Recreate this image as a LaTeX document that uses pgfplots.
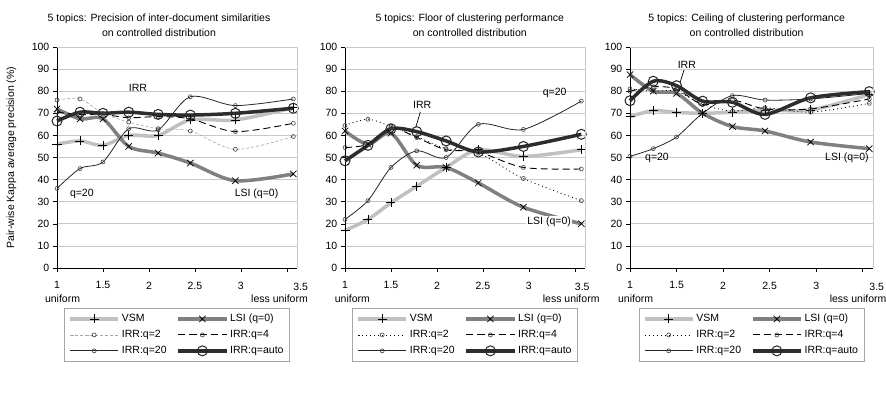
\documentclass[border=0pt]{standalone}
\usepackage{fontspec}
\setmainfont{Liberation Sans}
\usepackage{pgfplots}
\pgfplotsset{compat=1.18}
\usepackage{pgfplotstable}

\definecolor{vsmc}{RGB}{192,192,192}
\definecolor{lsic}{RGB}{128,128,128}
\definecolor{gridc}{RGB}{200,200,200}
\definecolor{autoc}{RGB}{45,45,45}

% precision of inter-document similarities
\pgfplotstableread{
x    vsm  lsi  q2   q4   q20  qauto
1    56   72   76   70.5 36   66.5
1.25 57.5 67.5 76.5 69.5 45   70.5
1.5  55.5 67.5 70   69.5 48   70
1.78 60   55   66   68   63   70.5
2.1  60   52   63   68.5 62.5 69.5
2.45 67   47.5 62   67.5 77.5 69.2
2.94 67   39.5 53.7 61.7 73.5 70
3.57 72.5 42.6 59.5 65.5 76.5 72.3
}\precdata

% floor of clustering performance
\pgfplotstableread{
x    vsm  lsi  q2   q4   q20  qauto
1    17   62   64.5 54.5 22   48.5
1.25 22   56   67.3 56   30.5 55.5
1.5  29.5 61   64   63.5 45.5 63
1.78 37   46.5 59.5 59   53   61.7
2.1  45.5 45.5 54   53.5 50   57.5
2.45 53.5 38.5 52   52.5 65   52.5
2.94 50.5 27.5 40.5 45.5 62.7 55
3.57 53.5 20   30.5 44.8 75.5 60.5
}\floordata

% ceiling of clustering performance
\pgfplotstableread{
x    vsm  lsi  q2   q4   q20  qauto
1    68.5 87.5 81   80   50.5 75.7
1.25 71.2 80   80   82   54   84.5
1.5  70.4 79   80   81   59.3 82.5
1.78 70   70   74   74   70   75.5
2.1  70.5 64   71   76   78   75
2.45 71.5 62   72.5 72   76   69.5
2.94 71.5 57   70.5 72   76.5 77
3.57 78.5 54   74.5 76.5 79   79.8
}\ceildata

\pgfplotsset{
  panel/.style={
    scale only axis, width=240pt, height=221pt,
    xmin=1, xmax=3.61, ymin=0, ymax=100,
    xtick={1,1.5,2,2.5,3,3.5}, xticklabels={1,1.5,2,2.5,3,{}},
    ytick={0,10,...,100},
    axis x line*=bottom, axis y line*=left,
    ymajorgrids, grid style={gridc, line width=0.8pt},
    tick align=outside, major tick length=4pt,
    tick style={black, line width=0.6pt},
    axis line style={black, line width=0.8pt},
    clip=false,
    /pgf/number format/assume math mode=true,
    xticklabel style={yshift=-6pt},
    title style={align=center, font=\fontsize{10.5}{14.5}\selectfont, anchor=south, yshift=1pt},
    legend columns=2,
    legend style={at={(0.5,-0.181)}, anchor=north, draw=gray!70, line width=0.6pt,
      cells={anchor=west}, /tikz/every even column/.append style={column sep=8pt},
      row sep=3pt, inner sep=4pt},
    legend image code/.code={\draw[mark repeat=2,mark phase=2] plot coordinates {(0pt,0pt) (24pt,0pt) (48pt,0pt)};},
    after end axis/.code={
      \draw[gridc, line width=0.8pt] (rel axis cs:0,1) -- (rel axis cs:1,1) -- (rel axis cs:1,0);
    },
  },
  ends/.style n args={3}{after end axis/.append code={
      \node at (axis cs:#1,0) [yshift=-31pt] {uniform};
      \node at (axis cs:#2,0) [yshift=-31pt] {less uniform};
      \node at (axis cs:#3,0) [yshift=-19pt] {3.5};
    }},
  vsm/.style={vsmc, line width=3.5pt, smooth, tension=0.5, mark=+, mark size=4.5pt, mark options={black, solid, line width=0.7pt}},
  lsi/.style={lsic, line width=3.5pt, smooth, tension=0.5, mark=x, mark size=4.5pt, mark options={black, solid, line width=0.7pt}},
  q2a/.style={gray!70, line width=0.6pt, dash pattern=on 3pt off 2pt, smooth, tension=0.5, mark=o, mark size=2pt, mark options={black!75, solid, fill=white, line width=0.6pt}},
  q2b/.style={black, line width=0.8pt, dash pattern=on 1pt off 3pt, smooth, tension=0.5, mark=o, mark size=2pt, mark options={black!75, solid, fill=white, line width=0.6pt}},
  q4/.style={black, line width=0.9pt, dash pattern=on 7pt off 4pt, smooth, tension=0.5, mark=o, mark size=2pt, mark options={black!75, solid, fill=white, line width=0.6pt}},
  q20/.style={black!85, line width=0.8pt, smooth, tension=0.5, mark=o, mark size=2pt, mark options={black!75, solid, fill=white, line width=0.6pt}},
  qauto/.style={autoc, line width=3.5pt, smooth, tension=0.5, mark=o, mark size=5pt, mark options={black!85, solid, line width=1pt}},
}

\begin{document}
\fontsize{10.5}{12.5}\selectfont
\begin{tikzpicture}[x=1pt,y=1pt]
\useasboundingbox (0,0) rectangle (886,-395);

\begin{axis}[panel, ends={1.06}{3.42}{3.65}, at={(57pt,-268pt)}, anchor=south west,
  title={5 topics: Precision of inter-document similarities\\on controlled distribution},
  title style={at={(0.425,1)}},
  ylabel={Pair-wise Kappa average precision (\%)},
  ylabel style={at={(axis description cs:-0.19,0.5)}, anchor=center},
  legend entries={VSM,LSI (q=0),IRR:q=2,IRR:q=4,IRR:q=20,IRR:q=auto}]
\addplot[vsm] table[x=x,y=vsm] {\precdata};
\addplot[lsi] table[x=x,y=lsi] {\precdata};
\addplot[q2a] table[x=x,y=q2] {\precdata};
\addplot[q4] table[x=x,y=q4] {\precdata};
\addplot[q20] table[x=x,y=q20] {\precdata};
\addplot[qauto] table[x=x,y=qauto] {\precdata};
\node at (axis cs:1.88,81.5) {IRR};
\node at (axis cs:1.27,33.5) {q=20};
\node at (axis cs:3.17,33.5) {LSI (q=0)};
\end{axis}

\begin{axis}[panel, ends={1.08}{3.46}{3.58}, at={(345pt,-268pt)}, anchor=south west,
  title={5 topics: Floor of clustering performance\\on controlled distribution},
  title style={at={(0.52,1)}},
  legend entries={VSM,LSI (q=0),IRR:q=2,IRR:q=4,IRR:q=20,IRR:q=auto}]
\addplot[vsm] table[x=x,y=vsm] {\floordata};
\addplot[lsi] table[x=x,y=lsi] {\floordata};
\addplot[q2b] table[x=x,y=q2] {\floordata};
\addplot[q4] table[x=x,y=q4] {\floordata};
\addplot[q20] table[x=x,y=q20] {\floordata};
\addplot[qauto] table[x=x,y=qauto] {\floordata};
\node at (axis cs:1.84,73.8) {IRR};
\draw[black, line width=0.7pt] (axis cs:1.82,70.6) -- (axis cs:1.77,63.8);
\node at (axis cs:3.28,79) {q=20};
\node[fill=white, inner sep=1pt] at (axis cs:3.22,20.8) {LSI (q=0)};
\end{axis}

\begin{axis}[panel, ends={1.06}{3.45}{3.65}, width=243pt, at={(630pt,-268pt)}, anchor=south west,
  title={5 topics: Ceiling of clustering performance\\on controlled distribution},
  title style={at={(0.48,1)}},
  legend entries={VSM,LSI (q=0),IRR:q=2,IRR:q=4,IRR:q=20,IRR:q=auto}]
\addplot[vsm] table[x=x,y=vsm] {\ceildata};
\addplot[lsi] table[x=x,y=lsi] {\ceildata};
\addplot[q2b] table[x=x,y=q2] {\ceildata};
\addplot[q4] table[x=x,y=q4] {\ceildata};
\addplot[q20] table[x=x,y=q20] {\ceildata};
\addplot[qauto] table[x=x,y=qauto] {\ceildata};
\node at (axis cs:1.61,91.8) {IRR};
\draw[black, line width=0.7pt] (axis cs:1.58,89.6) -- (axis cs:1.54,84.2);
\node at (axis cs:1.29,50) {q=20};
\node at (axis cs:3.33,50) {LSI (q=0)};
\end{axis}
\end{tikzpicture}
\end{document}
